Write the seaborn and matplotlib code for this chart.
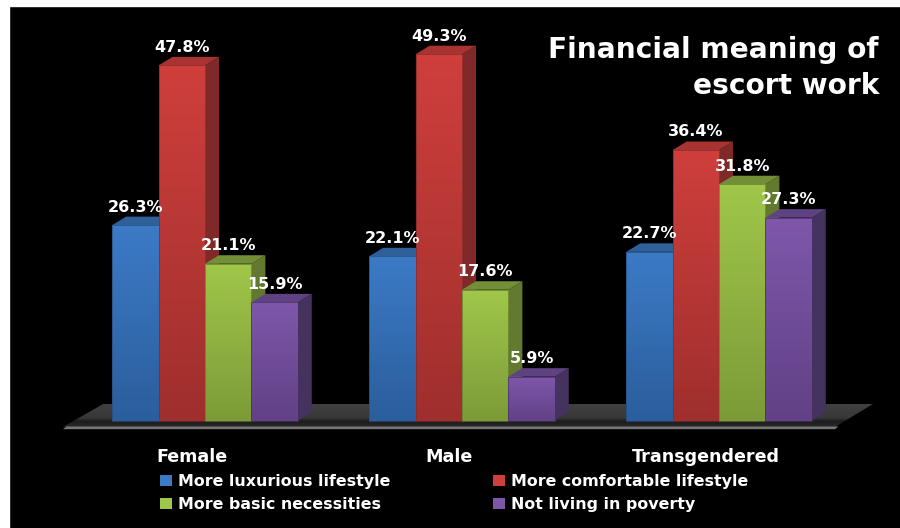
import numpy as np
import pandas as pd
import matplotlib
matplotlib.use("Agg")
import matplotlib.pyplot as plt
from matplotlib.colors import LinearSegmentedColormap
from matplotlib.patches import Polygon, Rectangle
import seaborn as sns

groups = ["Female", "Male", "Transgendered"]
series = ["More luxurious lifestyle", "More comfortable lifestyle",
          "More basic necessities", "Not living in poverty"]
luxurious = [26.3, 22.1, 22.7]
comfortable = [47.8, 49.3, 36.4]
basic = [21.1, 17.6, 31.8]
poverty = [15.9, 5.9, 27.3]
title_lines = "Financial meaning of\nescort work"

# face gradient (top, bottom), cap colour, side colour for each series
top_col = ["#3c7ac6", "#ce3f3c", "#a0c64a", "#7e57aa"]
bot_col = ["#2b5e9c", "#9f2f2d", "#7c9b38", "#624186"]
cap_col = ["#2f6099", "#a93331", "#728f38", "#5e4282"]
side_col = ["#254e7e", "#7f2a28", "#62792f", "#46325f"]

W, H = 900, 528
AX_L, AX_T, AX_B = 9, 6, 440
ZERO_X, GROUP_PX = 205, 257      # pixel centre of first group, pixels between groups
ZERO_Y, UNIT_PX = 420.5, 7.43    # pixel of value 0, pixels per percentage point
DEPTH_X, DEPTH_Y = 14 / GROUP_PX, 8.5 / UNIT_PX


def px_x(p):
    return (p - ZERO_X) / GROUP_PX


def px_y(p):
    return (ZERO_Y - p) / UNIT_PX


sns.set_theme(style="dark")
plt.rcParams["font.family"] = ["DejaVu Sans"]

fig = plt.figure(figsize=(W / 100, H / 100), dpi=100, facecolor="black")
ax = fig.add_axes([AX_L / W, 1 - AX_B / H, (W - AX_L) / W, (AX_B - AX_T) / H], facecolor="black")

# white margin along the left and top edges
fig.patches.append(Rectangle((0, 0), AX_L / W, 1, transform=fig.transFigure, color="white", zorder=10))
fig.patches.append(Rectangle((0, 1 - AX_T / H), 1, AX_T / H, transform=fig.transFigure, color="white", zorder=10))

df = pd.DataFrame({
    "group": np.tile(groups, 4),
    "series": np.repeat(series, 3),
    "value": luxurious + comfortable + basic + poverty,
})
sns.barplot(data=df, x="group", y="value", hue="series", hue_order=series,
            palette=top_col, width=0.722, gap=0, saturation=1, ax=ax, legend=True, zorder=3)

# floor slab beneath the bars
xl, xr, xbl, xbr = px_x(63), px_x(835), px_x(103), px_x(873)
floor = Polygon([(xl, px_y(427)), (xbl, px_y(404)), (xbr, px_y(404)), (xr, px_y(427))],
                closed=True, fc="none", ec="none", zorder=1)
ax.add_patch(floor)
floor_cmap = LinearSegmentedColormap.from_list(
    "floor", [(0, "#404040"), (0.6, "#383838"), (0.76, "#1c1c1c"), (1, "#2a2a2a")])
img = ax.imshow(np.linspace(0, 1, 64)[:, None], cmap=floor_cmap, aspect="auto", zorder=1,
                extent=(xl, xbr, px_y(427), px_y(404)), origin="upper")
img.set_clip_path(floor)
ax.add_patch(Polygon([(xl, px_y(429.2)), (xl + 3.5 / GROUP_PX, px_y(426.5)),
                      (xr + 3.5 / GROUP_PX, px_y(426.5)), (xr, px_y(429.2))],
                     closed=True, fc="#767676", ec="none", zorder=1.5))

# each bar becomes a block: side and cap polygons behind a shaded front face
for k, container in enumerate(ax.containers):
    cmap = LinearSegmentedColormap.from_list(f"s{k}", [top_col[k], bot_col[k]])
    for bar, value in zip(container, container.datavalues):
        x0, w = bar.get_x(), bar.get_width()
        x1 = x0 + w
        z = 3 + k * 0.1
        ax.add_patch(Polygon([(x1, 0), (x1 + DEPTH_X, DEPTH_Y), (x1 + DEPTH_X, value + DEPTH_Y), (x1, value)],
                             closed=True, fc=side_col[k], ec="none", zorder=z))
        ax.add_patch(Polygon([(x0, value), (x0 + DEPTH_X, value + DEPTH_Y),
                              (x1 + DEPTH_X, value + DEPTH_Y), (x1, value)],
                             closed=True, fc=cap_col[k], ec="none", zorder=z))
        bar.set_visible(False)
        ax.imshow(np.linspace(0, 1, 64)[:, None], cmap=cmap, aspect="auto", origin="upper",
                  extent=(x0, x1, 0, value), zorder=z + 0.01)
        ax.add_patch(Rectangle((x0, 0), w, value, fc="none", ec=side_col[k], lw=0.5, zorder=z + 0.02))
        ax.annotate(f"{value:.1f}%", (x0 + w / 2, value), xytext=(0, 13), textcoords="offset points",
                    ha="center", va="center", color="white", fontweight="bold", fontsize=11.5, zorder=8)

ax.set_xlim(px_x(AX_L), px_x(W))
ax.set_ylim(px_y(AX_B), px_y(AX_T))
ax.set_xlabel("")
ax.set_ylabel("")
ax.set_yticks([])
ax.grid(False)
for s in ax.spines.values():
    s.set_visible(False)

# category labels sit left of the group centres
ax.set_xticks(np.arange(len(groups)) - 13 / GROUP_PX, groups)
ax.tick_params(axis="x", length=0, pad=6, labelsize=12.6, labelcolor="white")
for t in ax.get_xticklabels():
    t.set_fontweight("bold")

ax.text(879 / W, 1 - 68 / H, title_lines, transform=fig.transFigure, ha="right", va="center",
        fontweight="bold", fontsize=20.2, color="white", linespacing=1.33, zorder=9)

handles = ax.get_legend().legend_handles
for h, c in zip(handles, top_col):
    h.set_facecolor(c)
    h.set_edgecolor("none")
order = [0, 2, 1, 3]
ax.legend([handles[i] for i in order], [series[i] for i in order], ncol=2,
          loc="upper left", bbox_to_anchor=(160 / W, 1 - 474 / H), bbox_transform=fig.transFigure,
          frameon=False, prop={"weight": "bold", "size": 11.4}, labelcolor="white",
          handlelength=0.76, handleheight=0.76, handletextpad=0.38, columnspacing=6.5,
          labelspacing=0.5, borderpad=0, borderaxespad=0)

fig.savefig("out.png", dpi=100, facecolor="black")
